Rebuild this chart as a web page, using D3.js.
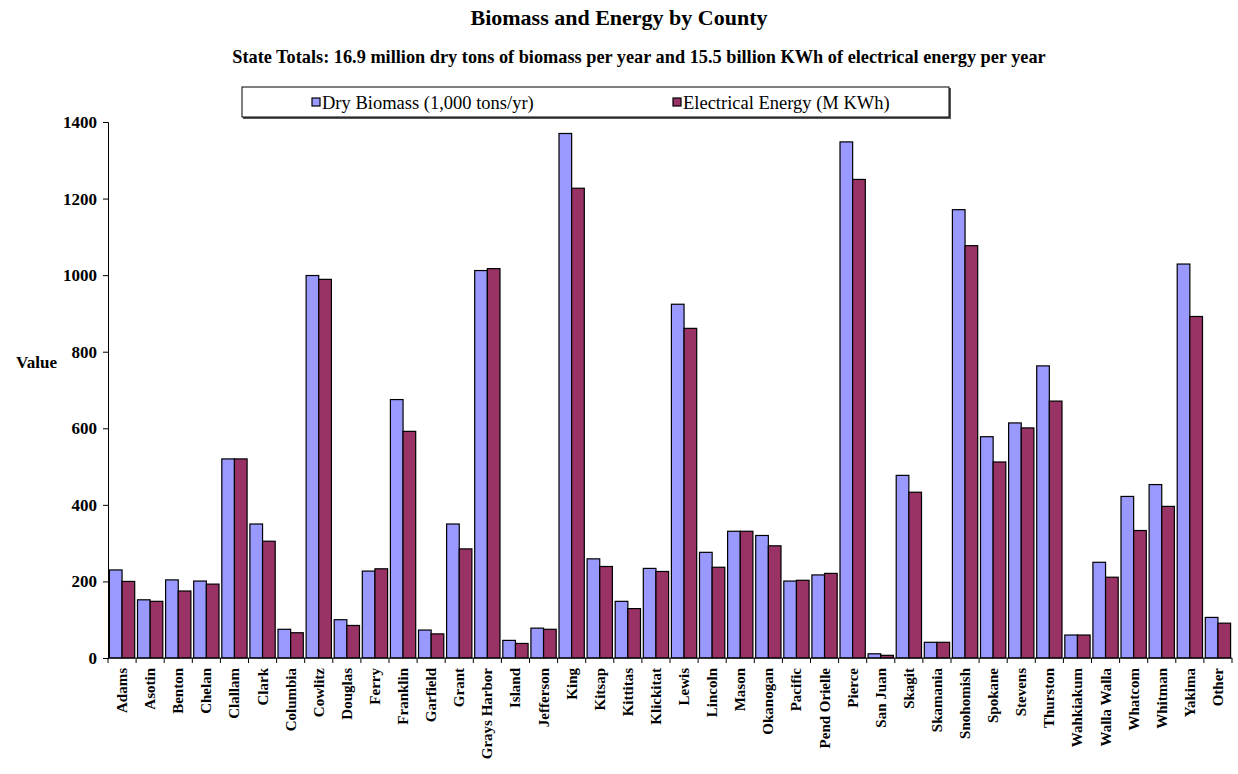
<!DOCTYPE html>
<html>
<head>
<meta charset="utf-8">
<script src="https://cdn.jsdelivr.net/npm/d3@7"></script>
<style>
  html, body { margin: 0; padding: 0; background: #fff; }
  svg { display: block; font-family: "Liberation Serif", "Times New Roman", serif; }
</style>
</head>
<body>
<svg id="chart" width="1238" height="774"></svg>
<script>
const counties = ["Adams","Asotin","Benton","Chelan","Clallam","Clark","Columbia","Cowlitz","Douglas","Ferry",
  "Franklin","Garfield","Grant","Grays Harbor","Island","Jefferson","King","Kitsap","Kittitas","Klickitat",
  "Lewis","Lincoln","Mason","Okanogan","Pacific","Pend Orielle","Pierce","San Juan","Skagit","Skamania",
  "Snohomish","Spokane","Stevens","Thurston","Wahkiakum","Walla Walla","Whatcom","Whitman","Yakima","Other"];
const dryBiomass = [230,152,204,201,520,350,75,999,100,227,
  675,73,350,1012,46,78,1370,259,148,234,
  924,276,331,320,201,217,1348,11,477,41,
  1171,578,614,763,60,250,422,453,1029,106];
const electricalEnergy = [200,148,175,193,520,305,66,989,85,233,
  592,63,285,1017,38,75,1227,239,129,226,
  861,237,331,293,203,221,1250,7,433,41,
  1077,512,601,671,60,211,333,396,892,91];
const yTicks = [0,200,400,600,800,1000,1200,1400];
const seriesNames = ["Dry Biomass (1,000 tons/yr)","Electrical Energy (M KWh)"];
const seriesColors = ["#9999FF","#993366"];
const titleText = "Biomass and Energy by County";
const subtitleText = "State Totals: 16.9 million dry tons of biomass per year and 15.5 billion KWh of electrical energy per year";
const yAxisTitle = "Value";

const svg = d3.select("#chart");
const plot = {left: 108, right: 1232, top: 122, bottom: 658};

const x = d3.scaleBand().domain(counties).range([plot.left, plot.right]).padding(0);
const y = d3.scaleLinear().domain([0, 1400]).range([plot.bottom, plot.top]);
const series = [dryBiomass, electricalEnergy];

// Titles
svg.append("text").attr("x", 619).attr("y", 25).attr("text-anchor", "middle")
  .attr("font-size", 22).attr("font-weight", "bold").text(titleText);
svg.append("text").attr("x", 639).attr("y", 63).attr("text-anchor", "middle")
  .attr("font-size", 18.3).attr("font-weight", "bold").text(subtitleText);

// Bars
const bw = x.bandwidth();
const inner = d3.scaleBand().domain([0,1]).range([bw*0.05, bw*0.95]).padding(0);
const g = svg.append("g");
counties.forEach((c, i) => {
  series.forEach((s, k) => {
    g.append("rect")
      .attr("x", x(c) + inner(k))
      .attr("y", y(s[i]))
      .attr("width", inner.bandwidth())
      .attr("height", y(0) - y(s[i]))
      .attr("fill", seriesColors[k])
      .attr("stroke", "#000")
      .attr("stroke-width", 1.2);
  });
});

// Y axis
const yAxis = svg.append("g").attr("transform", `translate(${plot.left},0)`)
  .call(d3.axisLeft(y).tickValues(yTicks).tickSize(5).tickPadding(6).tickFormat(d3.format("d")));
yAxis.select(".domain").attr("stroke", "#000");
yAxis.selectAll("text").attr("font-family", "Liberation Serif, serif").attr("font-size", 17)
  .attr("font-weight", "bold").attr("fill", "#000");

// X axis with ticks at band boundaries
const xAxisG = svg.append("g").attr("transform", `translate(0,${plot.bottom})`);
xAxisG.append("line").attr("x1", plot.left).attr("x2", plot.right).attr("stroke", "#000");
const boundaries = counties.map(c => x(c)).concat([plot.right]);
xAxisG.selectAll("line.tick").data(boundaries).enter().append("line")
  .attr("class","tick").attr("x1", d => d).attr("x2", d => d).attr("y1", 0).attr("y2", 5).attr("stroke", "#000");
xAxisG.selectAll("text").data(counties).enter().append("text")
  .attr("transform", d => `translate(${x(d) + bw/2 + 5},10) rotate(-90)`)
  .attr("text-anchor", "end")
  .attr("font-size", 15).attr("font-weight", "bold").text(d => d);

// Y axis title
svg.append("text").attr("x", 36.5).attr("y", 368).attr("text-anchor", "middle")
  .attr("font-size", 17).attr("font-weight", "bold").text(yAxisTitle);

// Legend
const lg = svg.append("g");
lg.append("rect").attr("x", 243).attr("y", 88).attr("width", 708).attr("height", 31).attr("fill", "#555");
lg.append("rect").attr("x", 242).attr("y", 87).attr("width", 707).attr("height", 30)
  .attr("fill", "#fff").attr("stroke", "#000").attr("stroke-width", 1);
const legendX = [312, 673];
seriesNames.forEach((n, k) => {
  lg.append("rect").attr("x", legendX[k]).attr("y", 98).attr("width", 8).attr("height", 8)
    .attr("fill", seriesColors[k]).attr("stroke", "#000").attr("stroke-width", 1.2);
  lg.append("text").attr("x", legendX[k] + 10).attr("y", 108.5)
    .attr("font-size", 18.5).text(n);
});
</script>
</body>
</html>
